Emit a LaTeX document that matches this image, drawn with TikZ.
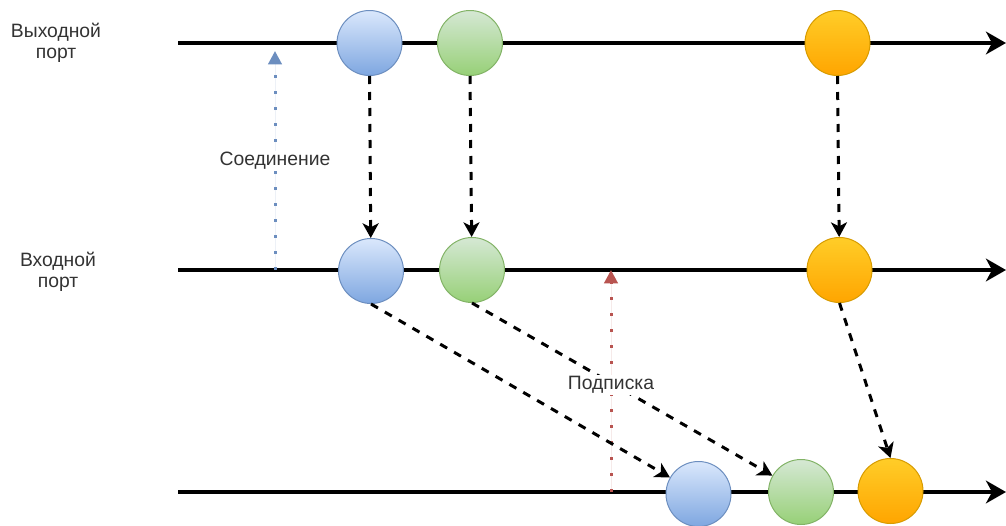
\documentclass[tikz,border=0pt]{standalone}
\usepackage{fontspec}
\setmainfont{Liberation Sans}
\usetikzlibrary{arrows.meta}
\definecolor{txt}{HTML}{333333}
\definecolor{bluetop}{HTML}{DAE8FC}
\definecolor{bluebot}{HTML}{7EA6E0}
\definecolor{blueline}{HTML}{6C8EBF}
\definecolor{greentop}{HTML}{D5E8D4}
\definecolor{greenbot}{HTML}{97D077}
\definecolor{greenline}{HTML}{82B366}
\definecolor{orangetop}{HTML}{FFCD28}
\definecolor{orangebot}{HTML}{FFA500}
\definecolor{orangeline}{HTML}{D79B00}
\definecolor{redline}{HTML}{B85450}
\tikzset{
  event/.style={circle, minimum size=48.75pt, inner sep=0pt, line width=0.75pt},
  bluev/.style={event, draw=blueline, top color=bluetop, bottom color=bluebot},
  greenv/.style={event, draw=greenline, top color=greentop, bottom color=greenbot},
  orangev/.style={event, draw=orangeline, top color=orangetop, bottom color=orangebot},
  timeline/.style={line width=3pt, -{Stealth[length=15pt, width=17pt, inset=4.5pt]}},
  flow/.style={line width=2.25pt, dash pattern=on 6pt off 6pt,
    -{Stealth[length=11pt, width=12pt, inset=3pt]}},
  link/.style={line width=2.25pt, dash pattern=on 2.25pt off 9.75pt,
    -{Triangle[length=10pt, width=10pt]}},
  caption/.style={font=\fontsize{14.5pt}{16pt}\selectfont, text=txt, align=center},
  tag/.style={caption, fill=white, inner sep=1pt}
}
\begin{document}
\begin{tikzpicture}[x=0.75pt, y=-0.75pt]
\useasboundingbox (0,0) rectangle (1006,525);

% time axes
\coordinate (outA) at (178,43);  \coordinate (outB) at (1006,43);
\coordinate (inA)  at (178,270); \coordinate (inB)  at (1006,270);
\coordinate (subA) at (178,492); \coordinate (subB) at (1006,492);
\draw[timeline] (outA) -- (outB);
\draw[timeline] (inA) -- (inB);
\draw[timeline] (subA) -- (subB);

% axis captions
\node[caption] (outlbl) at (56,43) {Выходной\\порт};
\node[caption] (inlbl) at (58,272) {Входной\\порт};

% connection and subscription markers
\coordinate (connFrom) at (275,270); \coordinate (connTo) at (275,51);
\draw[link, draw=blueline, fill=blueline] (connFrom) -- (connTo);
\coordinate (subFrom) at (611,492); \coordinate (subTo) at (611,270);
\draw[link, draw=redline, fill=redline] (subFrom) -- (subTo);

% emitted values
\node[bluev] (b1) at (369.5,43) {};
\node[greenv] (g1) at (470,43) {};
\node[orangev] (o1) at (837.5,43) {};

\node[bluev] (b2) at (371,271) {};
\node[greenv] (g2) at (472,270) {};
\node[orangev] (o2) at (839.5,270) {};

\node[bluev] (b3) at (698.5,494) {};
\node[greenv] (g3) at (801,492) {};
\node[orangev] (o3) at (890.5,491) {};

% propagation of values
\draw[flow] (b1.south) -- (b2);
\draw[flow] (g1.south) -- (g2);
\draw[flow] (o1.south) -- (o2);
\draw[flow] (b2.south) -- (b3);
\draw[flow] (g2.south) -- (g3);
\draw[flow] (o2.south) -- (o3.north);

% marker labels
\node[tag] (conn) at (275,161) {Соединение};
\node[tag] (subs) at (611,385) {Подписка};
\end{tikzpicture}
\end{document}
